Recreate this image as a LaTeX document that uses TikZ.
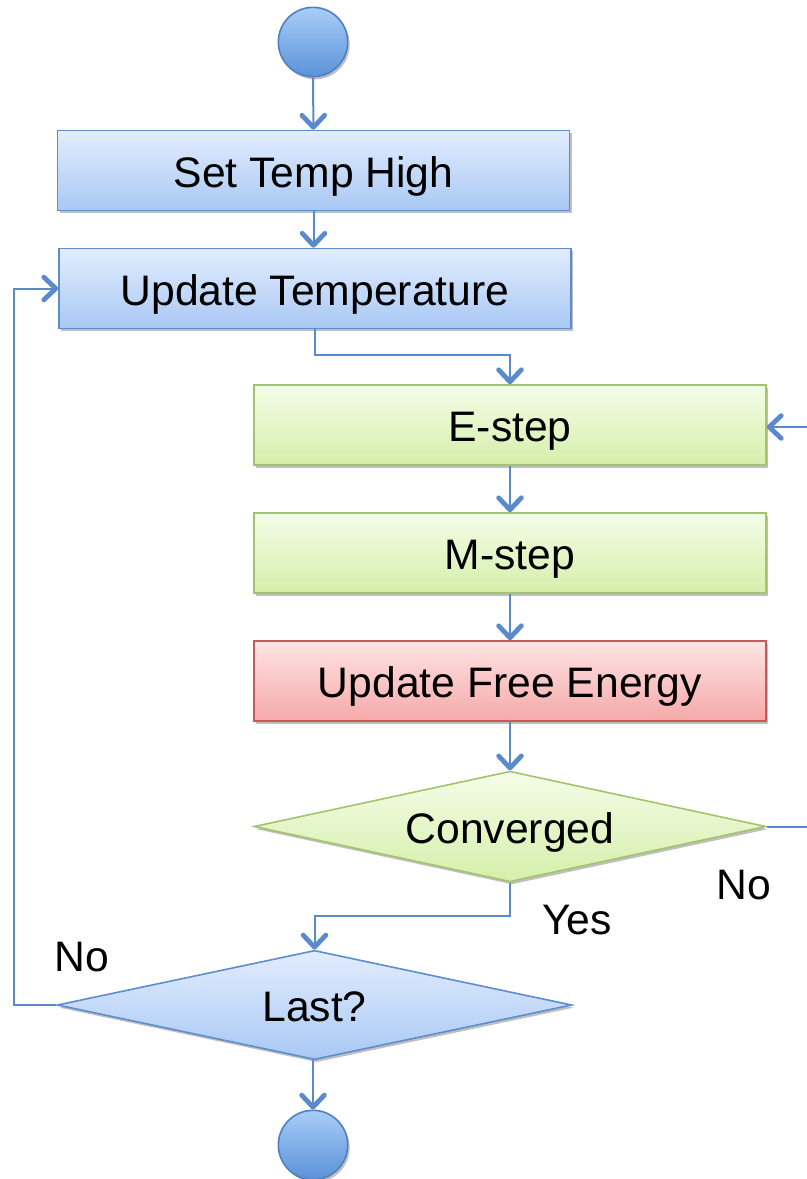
\documentclass[tikz,border=0pt]{standalone}
\usepackage{fontspec}
\setmainfont{Liberation Sans}
\usetikzlibrary{shapes.geometric,arrows.meta,shadows}

\definecolor{linkblue}{HTML}{5A8ACB}
\definecolor{boxblueT}{HTML}{E2EDFE}
\definecolor{boxblueB}{HTML}{A9C8F4}
\definecolor{edgeblue}{HTML}{5E8DCD}
\definecolor{boxgreenT}{HTML}{F4FDE8}
\definecolor{boxgreenB}{HTML}{D5EFAA}
\definecolor{edgegreen}{HTML}{A3C46A}
\definecolor{boxredT}{HTML}{FFE4E4}
\definecolor{boxredB}{HTML}{F5A9A9}
\definecolor{edgered}{HTML}{C9585A}
\definecolor{dotT}{HTML}{A9CDF8}
\definecolor{dotB}{HTML}{5A92D8}
\definecolor{dotedge}{HTML}{4F80C0}

\tikzset{
  base/.style={line width=1.2pt, font=\fontsize{32}{38}\selectfont,
    text height=25pt, text depth=0pt,
    drop shadow={shadow xshift=1.5pt, shadow yshift=-2pt, opacity=0.25, fill=black}},
  stepbox/.style={base, rectangle, minimum width=384pt, minimum height=60pt, inner sep=0pt},
  bluebox/.style={stepbox, draw=edgeblue, top color=boxblueT, bottom color=boxblueB},
  greenbox/.style={stepbox, draw=edgegreen, top color=boxgreenT, bottom color=boxgreenB},
  redbox/.style={stepbox, draw=edgered, top color=boxredT, bottom color=boxredB},
  decide/.style={base, diamond, inner sep=0pt, shape aspect=4.6},
  greendec/.style={decide, draw=edgegreen, top color=boxgreenT, bottom color=boxgreenB},
  bluedec/.style={decide, draw=edgeblue, top color=boxblueT, bottom color=boxblueB},
  terminal/.style={base, circle, minimum size=52pt, inner sep=0pt, draw=dotedge,
    top color=dotT, bottom color=dotB},
  arr/.style={draw=linkblue, line width=1.5pt,
    -{Straight Barb[length=9pt,width=17pt,line width=3.6pt,round]}},
  link/.style={draw=linkblue, line width=1.5pt},
  lbl/.style={font=\fontsize{32}{38}\selectfont, inner sep=0pt}
}

\begin{document}
\begin{tikzpicture}[x=0.75pt, y=-0.75pt]
  \useasboundingbox (0,0) rectangle (807,1179);

  % nodes
  \node[terminal] (start) at (313,42) {};
  \node[bluebox] (sethigh) at (313.5,170.5) {Set Temp High};
  \node[bluebox] (ut) at (315,288.5) {Update Temperature};
  \node[greenbox] (estep) at (510,425) {E-step};
  \node[greenbox] (mstep) at (510,553) {M-step};
  \node[redbox] (ufe) at (510,681) {Update Free Energy};
  \node[greendec, minimum width=384pt, minimum height=83pt] (conv) at (510,826.5) {Converged};
  \node[bluedec, minimum width=386pt, minimum height=82pt] (last) at (314.5,1005) {Last?};
  \node[terminal] (stop) at (313,1145) {};

  % junctions of the bent connectors
  \coordinate (j1) at (315,355);
  \coordinate (j2) at (510,916);
  \coordinate (loopL) at (14,1005);
  \coordinate (rin) at (807,427);
  \coordinate (rout) at (807,826.5);

  % connectors
  \draw[arr] (start) -- (sethigh);
  \draw[arr] (sethigh) -- (ut.north -| sethigh.south);
  \draw[arr] (ut.south) -- (j1) -| (estep.north);
  \draw[arr] (estep) -- (mstep);
  \draw[arr] (mstep) -- (ufe);
  \draw[arr] (ufe) -- (conv);
  \draw[arr] (conv.south) -- (j2) -| (last.north);
  \draw[arr] (last.south -| stop.north) -- (stop.north);
  \draw[arr] (last.west) -- (loopL) |- (ut.west);
  \draw[link] (conv.east) -- (rout);
  \draw[arr] (rin) -- (estep.east |- rin);

  % branch labels
  \node[lbl] (noright) at (744,885) {No};
  \node[lbl] (yes) at (577,920) {Yes};
  \node[lbl] (noleft) at (82,957) {No};
\end{tikzpicture}
\end{document}
